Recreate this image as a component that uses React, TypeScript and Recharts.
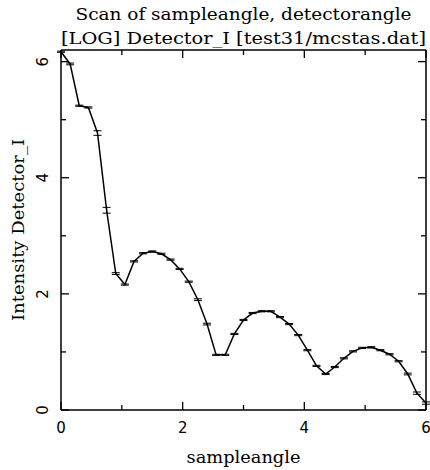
import React from "react";
import { LineChart, Line, XAxis, YAxis, ErrorBar } from "recharts";

// scan positions (sampleangle) and log10 of Detector_I
const sampleangle = [
  0, 0.15, 0.3, 0.45, 0.6, 0.75, 0.9, 1.05, 1.2, 1.35, 1.5, 1.65, 1.8, 1.95,
  2.1, 2.25, 2.4, 2.55, 2.7, 2.85, 3, 3.15, 3.3, 3.45, 3.6, 3.75, 3.9, 4.05,
  4.2, 4.35, 4.5, 4.65, 4.8, 4.95, 5.1, 5.25, 5.4, 5.55, 5.7, 5.85, 6,
];
const logDetectorI = [
  6.17, 5.96, 5.24, 5.21, 4.77, 3.44, 2.35, 2.16, 2.56, 2.7, 2.73, 2.69, 2.59,
  2.43, 2.21, 1.9, 1.48, 0.95, 0.95, 1.31, 1.55, 1.67, 1.7, 1.7, 1.6, 1.48,
  1.29, 1.03, 0.76, 0.62, 0.74, 0.89, 1.01, 1.07, 1.08, 1.03, 0.96, 0.84, 0.62,
  0.29, 0.12,
];
const logError = [
  0.01, 0.015, 0.01, 0.01, 0.04, 0.05, 0.015, 0.01, 0.01, 0.01, 0.01, 0.01,
  0.01, 0.01, 0.01, 0.015, 0.015, 0.01, 0.01, 0.01, 0.01, 0.01, 0.01, 0.01,
  0.01, 0.01, 0.01, 0.01, 0.01, 0.01, 0.01, 0.01, 0.01, 0.01, 0.01, 0.01,
  0.01, 0.01, 0.015, 0.02, 0.02,
];
const xTicks = [0, 1, 2, 3, 4, 5, 6];
const yTicks = [0, 1, 2, 3, 4, 5, 6];

const titleLines = [
  "Scan of sampleangle, detectorangle",
  "[LOG] Detector_I [test31/mcstas.dat]",
];
const xLabel = "sampleangle";
const yLabel = "Intensity Detector_I";

const data = sampleangle.map((x, i) => ({ x, y: logDetectorI[i], err: logError[i] }));

const serif = "DejaVu Serif, serif";
const sans = "DejaVu Sans, sans-serif";

const TOP = 50;
const PLOT_H = 360;

// ticks point into the plot; labels only on the major (even) ones
function makeTick(side: "bottom" | "top" | "left" | "right") {
  return (props: any) => {
    const { x, y, payload } = props;
    const major = payload.value % 2 === 0;
    const len = major ? 8 : 5;
    let line;
    if (side === "bottom") line = <line x1={x} x2={x} y1={y} y2={y - len} />;
    else if (side === "top") line = <line x1={x} x2={x} y1={y} y2={y + len} />;
    else if (side === "left") line = <line x1={x} x2={x + len} y1={y} y2={y} />;
    else line = <line x1={x} x2={x - len} y1={y} y2={y} />;
    return (
      <g>
        <g stroke="#000" strokeWidth={1.3}>{line}</g>
        {major && side === "bottom" && (
          <text x={x} y={y + 18} textAnchor="middle" dominantBaseline="central"
            fill="#000" fontFamily={sans} fontSize={15}>
            {payload.value}
          </text>
        )}
        {major && side === "left" && (
          <text x={-y} y={x - 18} transform="rotate(-90)" textAnchor="middle"
            dominantBaseline="central" fill="#000" fontFamily={sans} fontSize={15}>
            {payload.value}
          </text>
        )}
      </g>
    );
  };
}

const TitleLabel = (props: any) => {
  const vb = props.viewBox || { x: 61, width: 365 };
  const cx = vb.x + vb.width / 2;
  return (
    <g>
      <text x={cx} y={TOP - 36} textAnchor="middle" dominantBaseline="central"
        fontFamily={serif} fontSize={16} fill="#000"
        textLength={336} lengthAdjust="spacingAndGlyphs">{titleLines[0]}</text>
      <text x={cx} y={TOP - 12} textAnchor="middle" dominantBaseline="central"
        fontFamily={serif} fontSize={16} fill="#000"
        textLength={365} lengthAdjust="spacingAndGlyphs">{titleLines[1]}</text>
    </g>
  );
};

const XLabel = (props: any) => {
  const vb = props.viewBox;
  return (
    <text x={vb.x + vb.width / 2} y={TOP + PLOT_H + 47} textAnchor="middle"
      dominantBaseline="central" fontFamily={serif} fontSize={16} fill="#000"
      textLength={114} lengthAdjust="spacingAndGlyphs">
      {xLabel}
    </text>
  );
};

const YLabel = () => {
  const cx = 18;
  const cy = TOP + PLOT_H / 2;
  return (
    <text x={-cy} y={cx} transform="rotate(-90)" textAnchor="middle"
      dominantBaseline="central" fontFamily={serif} fontSize={16} fill="#000"
      textLength={182} lengthAdjust="spacingAndGlyphs">
      {yLabel}
    </text>
  );
};

const axisStroke = { stroke: "#000", strokeWidth: 1.5 };

export default function App() {
  return (
    <div style={{ position: "absolute", left: 0, top: 0, background: "#fff" }}>
      <LineChart width={430} height={470} data={data}
        margin={{ top: TOP - 1, right: 3, bottom: 0, left: 0 }}>
        <XAxis xAxisId="b" dataKey="x" type="number" domain={[0, 6]} ticks={xTicks}
          orientation="bottom" height={470 - TOP - PLOT_H} tickSize={0} tickMargin={0}
          axisLine={axisStroke} tickLine={false}
          tick={makeTick("bottom")} label={<XLabel />} interval={0} />
        <XAxis xAxisId="t" dataKey="x" type="number" domain={[0, 6]} ticks={xTicks}
          orientation="top" height={1} tickSize={0} tickMargin={0}
          axisLine={axisStroke} tickLine={false}
          tick={makeTick("top")} label={<TitleLabel />} interval={0} />
        <YAxis yAxisId="l" type="number" domain={[0, 6.2]} ticks={yTicks}
          orientation="left" width={61} tickSize={0} tickMargin={0}
          axisLine={axisStroke} tickLine={false}
          tick={makeTick("left")} label={<YLabel />} interval={0} />
        <YAxis yAxisId="r" type="number" domain={[0, 6.2]} ticks={yTicks}
          orientation="right" width={1} tickSize={0} tickMargin={0}
          axisLine={axisStroke} tickLine={false}
          tick={makeTick("right")} interval={0} />
        <Line xAxisId="b" yAxisId="l" type="linear" dataKey="y" stroke="#000"
          strokeWidth={1.5} dot={false} isAnimationActive={false}>
          <ErrorBar dataKey="err" width={4} stroke="#000" strokeWidth={1}
            direction="y" isAnimationActive={false} />
        </Line>
        <Line xAxisId="t" yAxisId="r" type="linear" dataKey="y" stroke="none"
          dot={false} activeDot={false} isAnimationActive={false} />
      </LineChart>
    </div>
  );
}
